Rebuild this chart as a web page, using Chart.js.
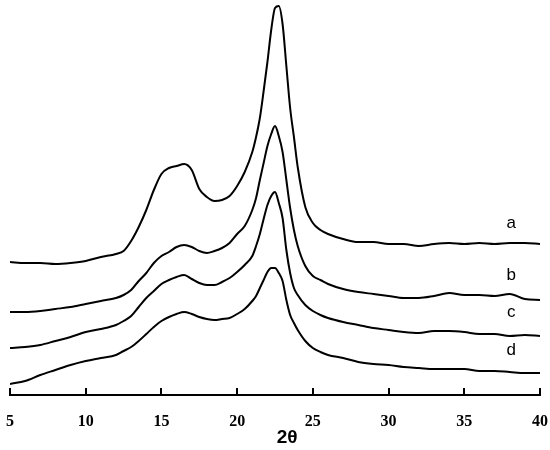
<!DOCTYPE html>
<html>
<head>
<meta charset="utf-8">
<script src="https://cdn.jsdelivr.net/npm/chart.js@4.4.1/dist/chart.umd.min.js"></script>
<style>
    html, body { margin: 0; padding: 0; background: #fff; }
    canvas { display: block; }
</style>
</head>
<body>
<canvas id="xrd" width="550" height="450"></canvas>
<script>
// 2θ positions (deg)
const theta = [5, 6, 7, 8, 9, 10, 11, 12, 12.5, 13, 13.5, 14, 14.5, 15, 15.5, 16, 16.5, 17, 17.5, 18, 18.5, 19, 19.5, 20, 20.5, 21,
    21.25, 21.5, 21.75, 22, 22.25, 22.5, 22.75, 23, 23.25, 23.5, 23.75, 24, 24.5, 25, 25.5, 26,
    27, 28, 29, 30, 31, 32, 33, 34, 35, 36, 37, 38, 39, 40];

// intensities (a.u., curves already offset as in the figure)
const seriesA = [133, 132, 132, 131, 132, 134, 138, 141, 144, 154, 168, 185, 205, 221, 227, 229, 231, 225, 206, 198, 194, 195, 199, 209, 223, 243,
    258, 277, 304, 333, 365, 387, 389, 371, 329, 287, 258, 228, 188, 172, 165, 161,
    156, 153, 153, 151, 151, 149, 151, 152, 151, 152, 151, 152, 152, 151];
const seriesB = [83, 83, 84, 86, 88, 91, 94, 97, 100, 105, 114, 122, 132, 139, 143, 148, 150, 148, 144, 142, 144, 147, 152, 161, 169, 185,
    197, 215, 232, 249, 261, 269, 259, 243, 215, 187, 165, 149, 129, 119, 115, 111,
    106, 103, 101, 99, 97, 97, 99, 102, 100, 100, 99, 101, 96, 95];
const seriesC = [47, 48, 50, 54, 58, 63, 66, 70, 74, 79, 88, 97, 104, 111, 115, 118, 120, 116, 112, 110, 110, 113, 117, 123, 130, 139,
    149, 161, 176, 190, 199, 203, 192, 177, 145, 122, 107, 100, 90, 84, 80, 77,
    73, 70, 67, 65, 63, 62, 64, 64, 63, 61, 61, 59, 60, 59];
const seriesD = [11, 14, 20, 25, 30, 34, 37, 40, 44, 48, 54, 61, 68, 74, 78, 81, 83, 81, 78, 76, 75, 76, 77, 81, 86, 94,
    99, 107, 115, 123, 127, 127, 122, 114, 95, 80, 72, 65, 54, 47, 43, 40,
    37, 33, 31, 30, 28, 27, 26, 26, 26, 24, 24, 23, 22, 22];

const curveNames = ['a', 'b', 'c', 'd'];
const curveLabelX = 38.1;
const curveLabelY = [167, 115, 78, 40];
const axisTitle = '2θ';
const axisTitleX = 23.3;

const allSeries = [seriesA, seriesB, seriesC, seriesD];

// curve letters and axis title
const decorPlugin = {
    id: 'decor',
    afterDraw(chart) {
        const { ctx, scales } = chart;
        const x = scales.x, y = scales.y;
        ctx.save();
        ctx.fillStyle = '#000';
        ctx.font = '17px "Liberation Sans", Arial, sans-serif';
        ctx.textAlign = 'center';
        ctx.textBaseline = 'alphabetic';
        curveNames.forEach((n, i) => {
            ctx.fillText(n, x.getPixelForValue(curveLabelX), y.getPixelForValue(curveLabelY[i]));
        });

        ctx.font = 'bold 19px "Liberation Sans", Arial, sans-serif';
        ctx.textBaseline = 'middle';
        ctx.fillText(axisTitle, x.getPixelForValue(axisTitleX), 438);
        ctx.restore();
    }
};

new Chart(document.getElementById('xrd'), {
    type: 'line',
    data: {
        datasets: allSeries.map((s, i) => ({
            label: curveNames[i],
            data: theta.map((t, j) => ({ x: t, y: s[j] })),
            borderColor: '#000',
            borderWidth: 2,
            pointRadius: 0,
            cubicInterpolationMode: 'monotone',
            fill: false,
        }))
    },
    options: {
        responsive: false,
        animation: false,
        layout: { padding: { left: 10, right: 10, top: 0, bottom: 0 } },
        plugins: { legend: { display: false }, tooltip: { enabled: false } },
        scales: {
            x: {
                type: 'linear', min: 5, max: 40,
                ticks: { stepSize: 5, color: '#000', padding: 24, maxRotation: 0,
                    font: { family: '"Liberation Serif", "Times New Roman", serif', size: 16, weight: 'bold' } },
                // negative tick length -> tick marks point up into the plot
                grid: { display: true, drawOnChartArea: false, drawTicks: true, tickLength: -7, color: '#000', lineWidth: 2 },
                border: { display: true, color: '#000', width: 2 },
                afterFit: (scale) => {
                    scale.height = 55;
                    scale.paddingLeft = 5;
                    scale.paddingRight = 8;
                }
            },
            y: { display: false, min: 0, max: 395 }
        }
    },
    plugins: [decorPlugin]
});
</script>
</body>
</html>
